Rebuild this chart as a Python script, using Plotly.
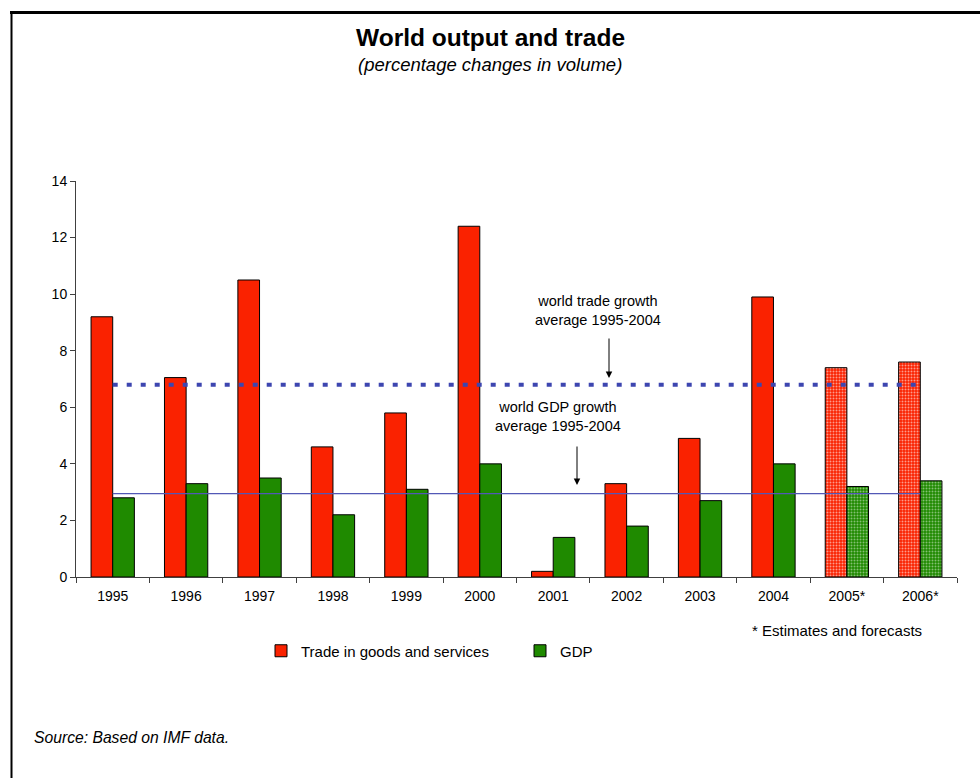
import plotly.graph_objects as go

# Annual percentage changes in volume
years = ["1995", "1996", "1997", "1998", "1999", "2000",
         "2001", "2002", "2003", "2004", "2005*", "2006*"]
trade = [9.2, 7.05, 10.5, 4.6, 5.8, 12.4, 0.2, 3.3, 4.9, 9.9, 7.4, 7.6]
gdp = [2.8, 3.3, 3.5, 2.2, 3.1, 4.0, 1.4, 1.8, 2.7, 4.0, 3.2, 3.4]
# estimate years get a dotted fill
fill_shape = ["", "", "", "", "", "", "", "", "", "", ".", "."]

trade_avg = 6.8   # world trade growth, average 1995-2004
gdp_avg = 2.95    # world GDP growth, average 1995-2004

W, H = 980, 778
L, R, T, B = 76, 23, 181, 201
PW, PH = W - L - R, H - T - B


def px(x):
    return (x - L) / PW


def py(y):
    return (H - B - y) / PH


FONT = "Liberation Sans, Arial, sans-serif"
RED = "#FA2200"
GREEN = "#1F8A00"

fig = go.Figure()
fig.add_trace(go.Bar(
    x=years, y=trade, name="Trade in goods and services",
    marker=dict(color=RED, line=dict(color="#000000", width=1),
                pattern=dict(shape=fill_shape, fillmode="overlay",
                             fgcolor="#FFFFFF", fgopacity=0.55,
                             size=3, solidity=0.35)),
))
fig.add_trace(go.Bar(
    x=years, y=gdp, name="GDP",
    marker=dict(color=GREEN, line=dict(color="#000000", width=1),
                pattern=dict(shape=fill_shape, fillmode="overlay",
                             fgcolor="#FFFFFF", fgopacity=0.45,
                             size=3, solidity=0.35)),
))
fig.add_trace(go.Scatter(
    x=[years[0], years[-1]], y=[trade_avg, trade_avg], mode="lines",
    line=dict(color="#3D46B0", width=4, dash="5px,9px"),
    showlegend=False, hoverinfo="skip",
))
fig.add_trace(go.Scatter(
    x=[years[0], years[-1]], y=[gdp_avg, gdp_avg], mode="lines",
    line=dict(color="#5258B6", width=1.3),
    showlegend=False, hoverinfo="skip",
))


def text(t, x, y, size, xanchor="center"):
    return dict(text=t, x=px(x), y=py(y), xref="paper", yref="paper",
                showarrow=False, xanchor=xanchor, yanchor="middle",
                font=dict(size=size, color="#000000"))


def arrow(x, y_tail, y_head):
    return dict(text="", x=px(x), y=py(y_head), ax=0, ay=y_tail - y_head,
                xref="paper", yref="paper", showarrow=True,
                arrowhead=2, arrowsize=1.3, arrowwidth=1, arrowcolor="#000000")


ann = [
    text("<b>World output and trade</b>", 490, 37, 24.5),
    text("<i>(percentage changes in volume)</i>", 490, 65, 18.5),
    text("world trade growth<br>average 1995-2004", 598, 310, 14.5),
    arrow(609, 337, 378),
    text("world GDP growth<br>average 1995-2004", 558, 416, 14.5),
    arrow(577, 445, 485),
    text("* Estimates and forecasts", 750, 630, 15, "left"),
    text("<i>Source: Based on IMF data.</i>", 32, 737, 15.7, "left"),
]

shapes = [
    dict(type="line", xref="paper", yref="paper",
         x0=px(10), x1=px(W + 5), y0=py(12.5), y1=py(12.5),
         line=dict(color="#000000", width=3)),
    dict(type="line", xref="paper", yref="paper",
         x0=px(11.5), x1=px(11.5), y0=py(11), y1=py(H + 5),
         line=dict(color="#000000", width=2)),
]

fig.update_layout(
    width=W, height=H,
    margin=dict(l=L, r=R, t=T, b=B),
    paper_bgcolor="#FFFFFF", plot_bgcolor="#FFFFFF",
    font=dict(family=FONT, size=14, color="#000000"),
    barmode="group", bargap=0.41, bargroupgap=0,
    showlegend=True,
    legend=dict(orientation="h", x=px(261), y=py(651), yanchor="middle",
                xanchor="left", font=dict(size=15),
                entrywidth=214, entrywidthmode="pixels",
                bgcolor="rgba(0,0,0,0)", traceorder="normal"),
    annotations=ann, shapes=shapes,
    xaxis=dict(type="category", showline=True, linecolor="#404040", linewidth=1,
               ticks="outside", tickson="boundaries", ticklen=5,
               tickcolor="#404040", showgrid=False, zeroline=False,
               ticklabelstandoff=6, tickfont=dict(size=14)),
    yaxis=dict(range=[0, 14], dtick=2, showline=True, linecolor="#404040",
               linewidth=1, ticks="outside", ticklen=5, tickcolor="#404040",
               showgrid=False, zeroline=False, tickfont=dict(size=14)),
)

fig.write_html("out.html")
